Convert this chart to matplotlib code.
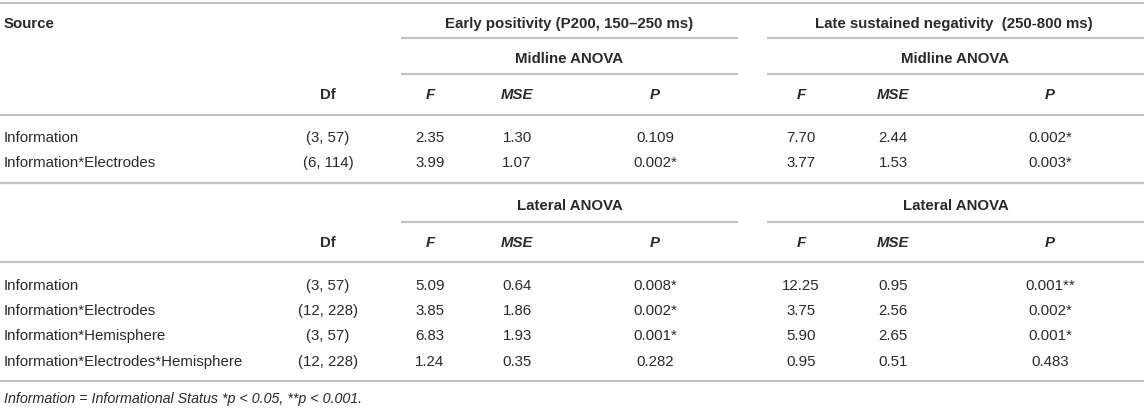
import matplotlib
matplotlib.use('Agg')
import matplotlib.pyplot as plt

plt.rcParams['font.family'] = ['Liberation Sans', 'DejaVu Sans']
plt.rcParams['font.size'] = 10.8

# table content
sources_midline = ['Information', 'Information*Electrodes']
df_midline = ['(3, 57)', '(6, 114)']
early_midline_F = ['2.35', '3.99']
early_midline_MSE = ['1.30', '1.07']
early_midline_P = ['0.109', '0.002*']
late_midline_F = ['7.70', '3.77']
late_midline_MSE = ['2.44', '1.53']
late_midline_P = ['0.002*', '0.003*']

sources_lateral = ['Information', 'Information*Electrodes', 'Information*Hemisphere',
                   'Information*Electrodes*Hemisphere']
df_lateral = ['(3, 57)', '(12, 228)', '(3, 57)', '(12, 228)']
early_lateral_F = ['5.09', '3.85', '6.83', '1.24']
early_lateral_MSE = ['0.64', '1.86', '1.93', '0.35']
early_lateral_P = ['0.008*', '0.002*', '0.001*', '0.282']
late_lateral_F = ['12.25', '3.75', '5.90', '0.95']
late_lateral_MSE = ['0.95', '2.56', '2.65', '0.51']
late_lateral_P = ['0.001**', '0.002*', '0.001*', '0.483']

col_labels = ['F', 'MSE', 'P', 'F', 'MSE', 'P']
footnote = 'Information = Informational Status *p < 0.05, **p < 0.001.'

W, H = 1144, 410
fig = plt.figure(figsize=(W / 100, H / 100), dpi=100)
ax = fig.add_axes([0, 0, 1, 1])
ax.set_xlim(0, W)
ax.set_ylim(H, 0)
ax.axis('off')

txt = '#2a2a2a'
rule = '#c4c4c4'
x_src = 4
x_df = 328
x_cols = [430, 517, 655, 801, 893, 1050]
early_span = (401, 738)
late_span = (767, 1144)


def hline(y, x0=0, x1=W):
    ax.plot([x0, x1], [y, y], color=rule, lw=1.6, solid_capstyle='butt')


def put(x, y, s, ha='center', **kw):
    ax.text(x, y, s, ha=ha, va='center', color=txt, **kw)


def block(y_sub, y_line, y_head, y_hline, y_rows, sources, dfs, cols, sub_label):
    # sub header (Midline / Lateral ANOVA) with rules under it
    put(sum(early_span) / 2, y_sub, sub_label, fontweight='bold')
    put(sum(late_span) / 2, y_sub, sub_label, fontweight='bold')
    hline(y_line, *early_span)
    hline(y_line, *late_span)
    put(x_df, y_head, 'Df', fontweight='bold')
    for x, lab in zip(x_cols, col_labels):
        put(x, y_head, lab, fontweight='bold', fontstyle='italic')
    hline(y_hline)
    for i, y in enumerate(y_rows):
        put(x_src, y, sources[i], ha='left')
        put(x_df, y, dfs[i])
        for x, c in zip(x_cols, cols):
            put(x, y, c[i])


hline(4)
put(x_src, 24, 'Source', ha='left', fontweight='bold')
put(sum(early_span) / 2, 24, 'Early positivity (P200, 150\u2013250 ms)', fontweight='bold')
put(sum(late_span) / 2 - 2, 24, 'Late sustained negativity  (250-800 ms)', fontweight='bold')
hline(39, *early_span)
hline(39, *late_span)

block(59, 75, 95, 116, [138, 163], sources_midline, df_midline,
      [early_midline_F, early_midline_MSE, early_midline_P,
       late_midline_F, late_midline_MSE, late_midline_P], 'Midline ANOVA')
hline(184)

block(206, 223, 243, 263, [286, 311, 336, 362], sources_lateral, df_lateral,
      [early_lateral_F, early_lateral_MSE, early_lateral_P,
       late_lateral_F, late_lateral_MSE, late_lateral_P], 'Lateral ANOVA')
hline(382)

put(x_src, 399, footnote, ha='left', fontstyle='italic', fontsize=10.3)

fig.savefig('out.png', dpi=100)
